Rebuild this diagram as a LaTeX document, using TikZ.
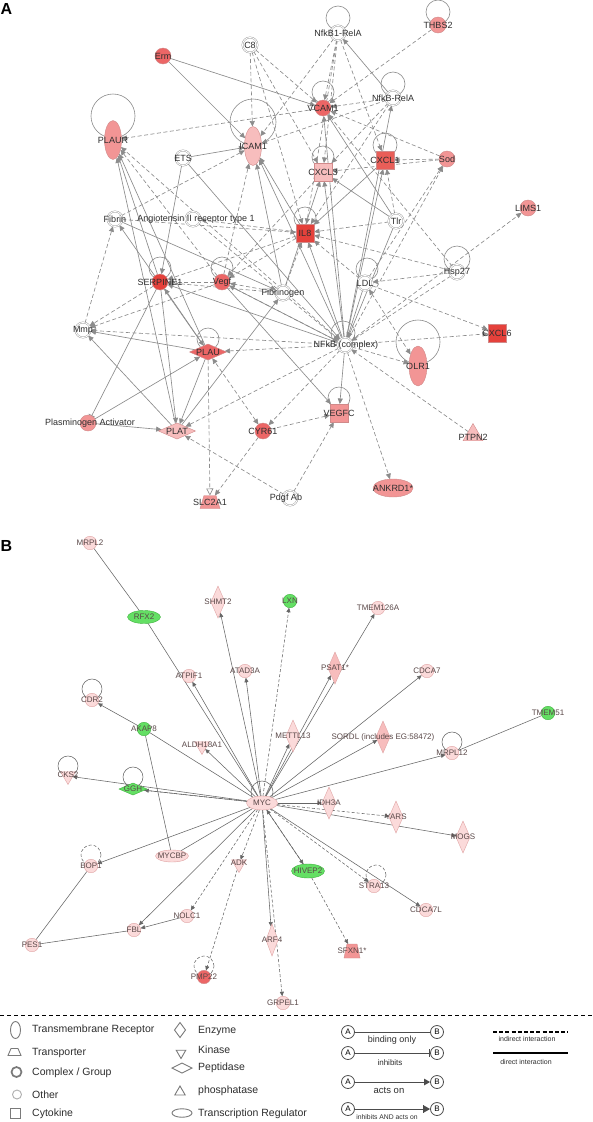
\documentclass[tikz,border=0pt]{standalone}
\usepackage{fontspec}
\setmainfont{Liberation Sans}
\usetikzlibrary{shapes.geometric,arrows.meta,backgrounds}
\definecolor{edgeA}{HTML}{8C8C8C}
\definecolor{edgeB}{HTML}{666666}
\definecolor{pkb}{HTML}{D08A8A}
\definecolor{rdA}{HTML}{E5413B}
\definecolor{rdB}{HTML}{EC6666}
\definecolor{rdC}{HTML}{F29595}
\definecolor{rdD}{HTML}{F7BDBD}
\definecolor{pkB}{HTML}{FBDADA}
\definecolor{pkBd}{HTML}{E0A4A4}
\definecolor{grn}{HTML}{64DF64}
\definecolor{grnd}{HTML}{3DB23D}
\definecolor{cpxc}{HTML}{A0A0A0}
\definecolor{lgd}{HTML}{7A7A7A}
\definecolor{txt}{HTML}{2E2E2E}
\definecolor{txtB}{HTML}{5A4848}
\begin{document}
\begin{tikzpicture}[x=1pt,y=-1pt,
  shp/.style={inner sep=0pt, outer sep=0pt, line width=0.4pt, draw=pkb},
  circ/.style={shp, circle, minimum size=16pt},
  cpx/.style={circle, inner sep=0pt, outer sep=0pt, minimum size=15pt, draw=cpxc, double=white, double distance=0.9pt, fill=white, line width=0.45pt},
  sq/.style={shp, rectangle, minimum size=18pt},
  vell/.style={shp, ellipse, minimum width=17pt, minimum height=39pt},
  hell/.style={shp, ellipse, minimum width=40pt, minimum height=18pt},
  pep/.style={shp, diamond, minimum width=37pt, minimum height=16pt},
  pho/.style={shp, regular polygon, regular polygon sides=3, minimum size=23pt},
  box/.style={inner sep=0pt, outer sep=0pt, rectangle},
  shpB/.style={inner sep=0pt, outer sep=0pt, line width=0.4pt, draw=pkBd, fill=pkB},
  circB/.style={shpB, circle, minimum size=13.5pt},
  hellB/.style={shpB, ellipse, minimum width=33pt, minimum height=13pt},
  enzB/.style={shpB, diamond, minimum width=14pt, minimum height=32pt},
  kinB/.style={shpB, regular polygon, regular polygon sides=3, shape border rotate=180, minimum size=17pt},
  pepB/.style={shpB, diamond, minimum width=28pt, minimum height=12pt},
  grnB/.style={fill=grn, draw=grnd},
  ea/.style={draw=edgeA, line width=0.65pt, -{Triangle[length=5.5pt,width=5pt]}},
  da/.style={ea, dash pattern=on 4pt off 2.5pt},
  ea2/.style={ea, {Triangle[length=5.5pt,width=5pt]}-{Triangle[length=5.5pt,width=5pt]}},
  da2/.style={ea2, dash pattern=on 4pt off 2.5pt},
  dao/.style={draw=edgeA, line width=0.65pt, dash pattern=on 4pt off 2.5pt, -{Triangle[open,length=7pt,width=7pt]}},
  ia/.style={draw=edgeA, line width=0.65pt, -{Bar[width=7pt]}},
  lpA/.style={draw=edgeA, line width=0.6pt},
  eb/.style={draw=edgeB, line width=0.55pt, -{Triangle[length=4.5pt,width=4pt]}},
  db/.style={eb, dash pattern=on 3pt off 2pt},
  pb/.style={draw=edgeB, line width=0.55pt},
  lpB/.style={draw=edgeB, line width=0.55pt},
  lblA/.style={font=\fontsize{9}{10}\selectfont, text=txt, inner sep=0pt},
  lblB/.style={font=\fontsize{8}{9}\selectfont, text=txtB, inner sep=0pt},
  every label/.style={font=\fontsize{9}{10}\selectfont, text=txt, inner sep=0pt}
]
\begin{scope}[on background layer]
\fill[white] (0,0) rectangle (593,1122);
\end{scope}
\useasboundingbox (0,0) rectangle (593,1122);

% ---------- Panel A ----------
\node[font=\fontsize{16}{17}\selectfont\bfseries, anchor=base west, inner sep=0pt] (lblA) at (0.5,14) {A};

\node[cpx, label=center:C8] (C8) at (250,45) {};
\node[circ, fill=rdB, label=center:Erm] (Erm) at (163,56) {};
\node[vell, fill=rdC, label=center:PLAUR] (PLAUR) at (113,140) {};
\node[cpx, label=center:ETS] (ETS) at (183,158) {};
\node[vell, fill=rdD, label=center:ICAM1] (ICAM1) at (253,146) {};
\node[cpx, label=center:Fibrin] (Fibrin) at (115,219) {};
\node[cpx, label={[xshift=3pt]center:Angiotensin II receptor type 1}] (AGTR1) at (193,219) {};
\node[cpx, label=center:NfkB1-RelA] (NFKB1) at (338,33) {};
\node[circ, fill=rdC, label=center:THBS2] (THBS2) at (438,25) {};
\node[circ, fill=rdB, label=center:VCAM1] (VCAM1) at (323,108) {};
\node[cpx, label=center:NfkB-RelA] (NFKBR) at (393,98) {};
\node[sq, fill=rdA!85!white, label=center:CXCL1] (CXCL1) at (385,160) {};
\node[circ, fill=rdC, label=center:Sod] (Sod) at (447,159) {};
\node[sq, fill=rdD, label=center:CXCL3] (CXCL3) at (323,172) {};
\node[circ, fill=rdC, label=center:LIMS1] (LIMS1) at (528,208) {};
\node[cpx, label=center:Tlr] (Tlr) at (396,221) {};
\node[sq, fill=rdA, label=center:IL8] (IL8) at (305,233) {};
\node[cpx, label=center:Hsp27] (Hsp27) at (457,272) {};
\node[cpx, label=center:LDL] (LDL) at (365,283) {};
\node[cpx, label=center:Fibrinogen] (Fbg) at (283,293) {};
\node[circ, fill=rdB, label=center:Vegf] (Vegf) at (222,282) {};
\node[circ, fill=rdA, label=center:SERPINE1] (SERP) at (160,282) {};
\node[cpx, label=center:Mmp] (Mmp) at (83,330) {};
\node[pep, fill=rdB, label=center:PLAU] (PLAU) at (208,352) {};
\node[cpx, label={[xshift=1pt]center:NFkB (complex)}] (NFKB) at (345,345) {};
\node[sq, fill=rdA, label=center:CXCL6] (CXCL6) at (497,333) {};
\node[vell, fill=rdC, minimum height=40pt, minimum width=18pt, label=center:OLR1] (OLR1) at (418,366) {};
\node[circ, fill=rdC, label={[xshift=2pt]center:Plasminogen Activator}] (PA) at (88,423) {};
\node[pep, fill=rdD, label=center:PLAT] (PLAT) at (177,431) {};
\node[circ, fill=rdB, label=center:CYR61] (CYR61) at (263,431) {};
\node[sq, fill=rdC, label=center:VEGFC] (VEGFC) at (339,413) {};
\node[pho, fill=rdD, label={[yshift=-2pt]center:PTPN2}] (PTPN2) at (473,435) {};
\node[box, minimum width=20pt, minimum height=13pt] (SLC) at (210,502) {};
\filldraw[fill=rdC, draw=pkb, line width=0.4pt] (SLC.south west) -- (SLC.south east) -- ([xshift=-4pt]SLC.north east) -- ([xshift=4pt]SLC.north west) -- cycle;
\node[lblA] (SLCt) at (SLC) {SLC2A1};
\node[cpx, label={[xshift=-4pt]center:Pdgf Ab}] (Pdgf) at (290,498) {};
\node[hell, fill=rdC, label=center:ANKRD1*] (ANK) at (393,488) {};

\begin{scope}[on background layer]
  % self loops
  \draw[lpA] (113,116) circle[radius=22pt];
  \draw[lpA] (253,122) circle[radius=23pt];
  \draw[lpA] (338,18) circle[radius=12pt];
  \draw[lpA] (438,12) circle[radius=12pt];
  \draw[lpA] (323,92) circle[radius=11pt];
  \draw[lpA] (393,84) circle[radius=12pt];
  \draw[lpA] (385,145) circle[radius=12pt];
  \draw[lpA] (323,157) circle[radius=11pt];
  \draw[lpA] (305,218) circle[radius=11pt];
  \draw[lpA] (457,259) circle[radius=13pt];
  \draw[lpA] (367,269) circle[radius=11pt];
  \draw[lpA] (222,268) circle[radius=11pt];
  \draw[lpA] (160,268) circle[radius=11pt];
  \draw[lpA] (208,339) circle[radius=11pt];
  \draw[lpA] (343,333) circle[radius=12pt];
  \draw[lpA] (418,342) circle[radius=22pt];
  \draw[lpA] (339,398) circle[radius=11pt];
  % solid arrows
  \foreach \s/\t in {Erm/VCAM1, Erm/ICAM1, ETS/ICAM1, ETS/SERP, ETS/NFKB, NFKBR/NFKB1,
    NFKB/NFKBR, NFKB/ICAM1, NFKB/VCAM1, NFKB/CXCL3, NFKB/IL8, NFKB/CXCL1, NFKB/VEGFC,
    NFKB/SERP, Fbg/ICAM1, Tlr/CXCL3, Tlr/VCAM1, Tlr/NFKB, Vegf/VEGFC, PLAU/PLAUR,
    PLAT/PLAUR, SERP/PLAUR, PLAU/Mmp, PLAT/Mmp, PA/PLAT, PA/PLAU, PLAU/PLAT, PLAT/Fbg,
    Fibrin/Fbg, PLAU/Fibrin, IL8/ICAM1, LDL/NFKB, Vegf/NFKB, SERP/PLAT, CXCL1/IL8, Fbg/CXCL3}
    \draw[ea] (\s) -- (\t);
  \draw[ea2] (SERP) -- (PLAU);
  \draw[ia] (SERP) -- (PA);
  % dashed arrows
  \foreach \s/\t in {C8/ICAM1, C8/VCAM1, C8/CXCL3, C8/IL8, NFKB1/ICAM1, NFKB1/VCAM1,
    NFKB1/CXCL3, NFKB1/IL8, NFKB1/CXCL1, THBS2/VCAM1, NFKBR/VCAM1, NFKBR/ICAM1,
    NFKBR/CXCL3, NFKBR/IL8, Sod/VCAM1, Sod/CXCL1, Sod/CXCL3, NFKB/Sod, LDL/Sod,
    NFKB/LIMS1, Tlr/IL8, Hsp27/IL8, Hsp27/LDL, Hsp27/NFKB, LDL/IL8, LDL/CXCL6,
    NFKB/CXCL6, NFKB/OLR1, NFKB/ANK, PTPN2/NFKB, NFKB/PLAU, NFKB/Vegf, NFKB/PLAT,
    NFKB/Mmp, Vegf/SERP, Vegf/Mmp, Vegf/PLAUR, Vegf/ICAM1, SERP/Mmp, Mmp/Fibrin,
    CYR61/SLC, CYR61/VEGFC, Pdgf/PLAT, Pdgf/VEGFC, Fbg/IL8, Fbg/Vegf, IL8/AGTR1,
    AGTR1/NFKB, Fibrin/ICAM1, VCAM1/PLAUR, IL8/SERP, Fbg/SERP, CXCL3/Vegf,
    NFKB/CYR61, IL8/Vegf, Hsp27/VCAM1, Fibrin/IL8, NFKB/PLAUR, Tlr/CXCL1}
    \draw[da] (\s) -- (\t);
  \draw[da2] (LDL) -- (OLR1);
  \draw[da2] (CYR61) -- (PLAU);
  \draw[dao] (PLAU) -- (SLC);
\end{scope}

% ---------- Panel B ----------
\node[font=\fontsize{16}{17}\selectfont\bfseries, anchor=base west, inner sep=0pt] (lblB) at (0.5,551) {B};
\begin{scope}[every label/.style={font=\fontsize{8}{9}\selectfont, text=txtB, inner sep=0pt}]
\node[circB, label=center:MRPL2] (MRPL2) at (90,543) {};
\node[hellB, grnB, label=center:RFX2] (RFX2) at (144,617) {};
\node[enzB, label=center:SHMT2] (SHMT2) at (218,602) {};
\node[circB, grnB, label=center:LXN] (LXN) at (290,601) {};
\node[circB, label=center:ATPIF1] (ATPIF1) at (189,676) {};
\node[circB, label=center:ATAD3A] (ATAD3A) at (245,671) {};
\node[circB, label=center:CDR2] (CDR2) at (92,700) {};
\node[circB, grnB, label=center:AKAP8] (AKAP8) at (144,729) {};
\node[kinB, label={[yshift=1pt]center:ALDH18A1}] (ALDH) at (202,746) {};
\node[circB, label=center:TMEM126A] (TMEM126A) at (378,608) {};
\node[enzB, fill=rdD, label=center:PSAT1*] (PSAT1) at (335,668) {};
\node[circB, label=center:CDCA7] (CDCA7) at (427,671) {};
\node[circB, grnB, label=center:TMEM51] (TMEM51) at (548,713) {};
\node[enzB, label=center:METTL13] (METTL13) at (293,736) {};
\node[enzB, fill=rdD, label=center:SORDL (includes EG:58472)] (SORDL) at (383,737) {};
\node[circB, label=center:MRPL12] (MRPL12) at (452,753) {};
\node[kinB, label={[yshift=1pt]center:CKS2}] (CKS2) at (68,776) {};
\node[pepB, grnB, label=center:GGH] (GGH) at (133,789) {};
\node[hellB, minimum width=31pt, minimum height=14pt, label=center:MYC] (MYC) at (262,803) {};
\node[circB, label=center:BOP1] (BOP1) at (91,866) {};
\node[hellB, minimum height=12pt, label=center:MYCBP] (MYCBP) at (172,856) {};
\node[kinB, label={[yshift=1pt]center:ADK}] (ADK) at (239,864) {};
\node[hellB, grnB, minimum height=14pt, label=center:HIVEP2] (HIVEP2) at (308,871) {};
\node[enzB, label=center:IDH3A] (IDH3A) at (329,803) {};
\node[enzB, label=center:YARS] (YARS) at (396,817) {};
\node[enzB, label=center:MOGS] (MOGS) at (463,837) {};
\node[circB, label=center:STRA13] (STRA13) at (374,886) {};
\node[circB, label=center:CDCA7L] (CDCA7L) at (426,910) {};
\node[circB, label=center:NOLC1] (NOLC1) at (187,916) {};
\node[circB, label=center:FBL] (FBL) at (134,930) {};
\node[circB, label=center:PES1] (PES1) at (32,945) {};
\node[enzB, minimum width=12pt, label=center:ARF4] (ARF4) at (272,940) {};
\node[circB, fill=rdB, draw=pkb, label=center:PMP22] (PMP22) at (204,977) {};
\node[circB, label=center:GRPEL1] (GRPEL1) at (283,1003) {};
\end{scope}
\node[box, minimum width=16pt, minimum height=14pt] (SFXN1) at (352,951) {};
\filldraw[fill=rdC, draw=pkb, line width=0.4pt] (SFXN1.south west) -- (SFXN1.south east) -- ([xshift=-3pt]SFXN1.north east) -- ([xshift=3pt]SFXN1.north west) -- cycle;
\node[lblB] (SFXN1t) at (SFXN1) {SFXN1*};

\begin{scope}[on background layer]
  \draw[lpB] (92,689) circle[radius=10pt];
  \draw[lpB] (68,766) circle[radius=10pt];
  \draw[lpB] (133,777) circle[radius=10pt];
  \draw[lpB] (262,792) circle[radius=11pt];
  \draw[lpB] (452,742) circle[radius=10pt];
  \draw[lpB, dash pattern=on 3pt off 2pt] (91,855) circle[radius=10pt];
  \draw[lpB, dash pattern=on 3pt off 2pt] (204,966) circle[radius=10pt];
  \draw[lpB, dash pattern=on 3pt off 2pt] (376,875) circle[radius=10pt];
  \foreach \s/\t in {MYC/SHMT2, MYC/ATAD3A, MYC/ATPIF1, MYC/TMEM126A, MYC/PSAT1,
    MYC/CDCA7, MYC/SORDL, MYC/MRPL12, MYC/METTL13, MYC/IDH3A, MYC/MOGS, MYC/CDCA7L,
    MYC/ARF4, MYC/BOP1, MYC/FBL, MYC/CKS2, MYC/ALDH, NOLC1/FBL, AKAP8/CDR2, HIVEP2/MYC}
    \draw[eb] (\s) -- (\t);
  \foreach \s/\t in {MYC/LXN, MYC/YARS, MYC/STRA13, MYC/HIVEP2, HIVEP2/SFXN1,
    MYC/GRPEL1, MYC/ADK, ADK/PMP22, MYC/NOLC1, MYC/GGH}
    \draw[db] (\s) -- (\t);
  \foreach \s/\t in {MRPL2/RFX2, RFX2/MYC, TMEM51/MRPL12, BOP1/PES1, PES1/FBL,
    MYCBP/MYC, MYCBP/AKAP8, AKAP8/MYC, GGH/MYC}
    \draw[pb] (\s) -- (\t);
\end{scope}

% ---------- Legend ----------
\coordinate (SepL) at (0,1015);
\coordinate (SepR) at (593,1015);
\draw[line width=0.8pt, dash pattern=on 4pt off 3pt] (SepL) -- (SepR);
\begin{scope}[lg/.style={draw=lgd, line width=0.9pt, fill=white, inner sep=0pt, outer sep=0pt},
  lt/.style={anchor=west, font=\fontsize{10.5}{12}\selectfont, text=txt, inner sep=0pt},
  abc/.style={circle, draw=black!70, line width=0.8pt, minimum size=13pt, inner sep=0pt, font=\fontsize{8}{9}\selectfont},
  lgl/.style={draw=black!70, line width=0.9pt},
  ls/.style={font=\fontsize{9}{10}\selectfont, text=txt, inner sep=0pt}]
\node[lg, ellipse, minimum width=10pt, minimum height=17pt] (L1) at (15.5,1030) {};
\node[lt] (T1) at (32,1029.5) {Transmembrane Receptor};
\node[box, minimum width=13pt, minimum height=7pt] (L2) at (14.5,1052) {};
\draw[draw=lgd, line width=0.9pt] (L2.south west) -- (L2.south east) -- ([xshift=-3pt]L2.north east) -- ([xshift=3pt]L2.north west) -- cycle;
\node[lt] (T2) at (32,1053) {Transporter};
\node[lg, circle, minimum size=10pt, line width=1.7pt] (L3) at (16.5,1072) {};
\node[lt] (T3) at (32,1073) {Complex / Group};
\node[lg, circle, minimum size=9pt, draw=lgd!60] (L4) at (17,1094.5) {};
\node[lt] (T4) at (32,1095) {Other};
\node[lg, rectangle, minimum size=10pt] (L5) at (15,1113) {};
\node[lt] (T5) at (32,1114) {Cytokine};

\node[lg, diamond, minimum width=11pt, minimum height=15pt] (M1) at (180,1030) {};
\node[lt] (U1) at (198,1030.5) {Enzyme};
\node[lg, regular polygon, regular polygon sides=3, shape border rotate=180, minimum size=11pt] (M2) at (181,1053) {};
\node[lt] (U2) at (198,1050) {Kinase};
\node[lg, diamond, minimum width=20pt, minimum height=10pt] (M3) at (182,1068) {};
\node[lt] (U3) at (198,1068) {Peptidase};
\node[lg, regular polygon, regular polygon sides=3, minimum size=12pt] (M4) at (180,1092) {};
\node[lt] (U4) at (198,1091) {phosphatase};
\node[lg, ellipse, minimum width=20pt, minimum height=8.5pt] (M5) at (182,1113) {};
\node[lt] (U5) at (198,1114) {Transcription Regulator};

\node[abc] (A1) at (348,1032) {A}; \node[abc] (B1) at (437,1032) {B};
\draw[lgl] (A1) -- (B1);
\node[ls] (R1) at (392,1040) {binding only};
\node[abc] (A2) at (348,1053) {A}; \node[abc] (B2) at (437,1053) {B};
\draw[lgl, -{Bar[width=8pt]}] (A2) -- (B2);
\node[ls, font=\fontsize{8}{9}\selectfont] (R2) at (390,1063) {inhibits};
\node[abc] (A3) at (348,1082) {A}; \node[abc] (B3) at (437,1082) {B};
\draw[lgl, -{Triangle[length=6pt,width=6.5pt]}] (A3) -- (B3);
\node[ls, font=\fontsize{9.5}{10}\selectfont] (R3) at (389,1090) {acts on};
\node[abc] (A4) at (348,1109) {A}; \node[abc] (B4) at (437,1109) {B};
\draw[lgl, -{Bar[width=8pt] Triangle[length=6pt,width=6.5pt]}] (A4) -- (B4);
\node[ls, font=\fontsize{6.8}{8}\selectfont] (R4) at (387,1117) {inhibits AND acts on};

\coordinate (I1) at (493,1032); \coordinate (I2) at (568,1032);
\draw[line width=2.4pt, dash pattern=on 4pt off 2.2pt] (I1) -- (I2);
\node[ls, font=\fontsize{7}{8}\selectfont] (R5) at (527,1038.5) {indirect interaction};
\coordinate (D1) at (493,1053); \coordinate (D2) at (568,1053);
\draw[line width=2.8pt] (D1) -- (D2);
\node[ls, font=\fontsize{7}{8}\selectfont] (R6) at (526,1062) {direct interaction};
\end{scope}
\end{tikzpicture}
\end{document}
